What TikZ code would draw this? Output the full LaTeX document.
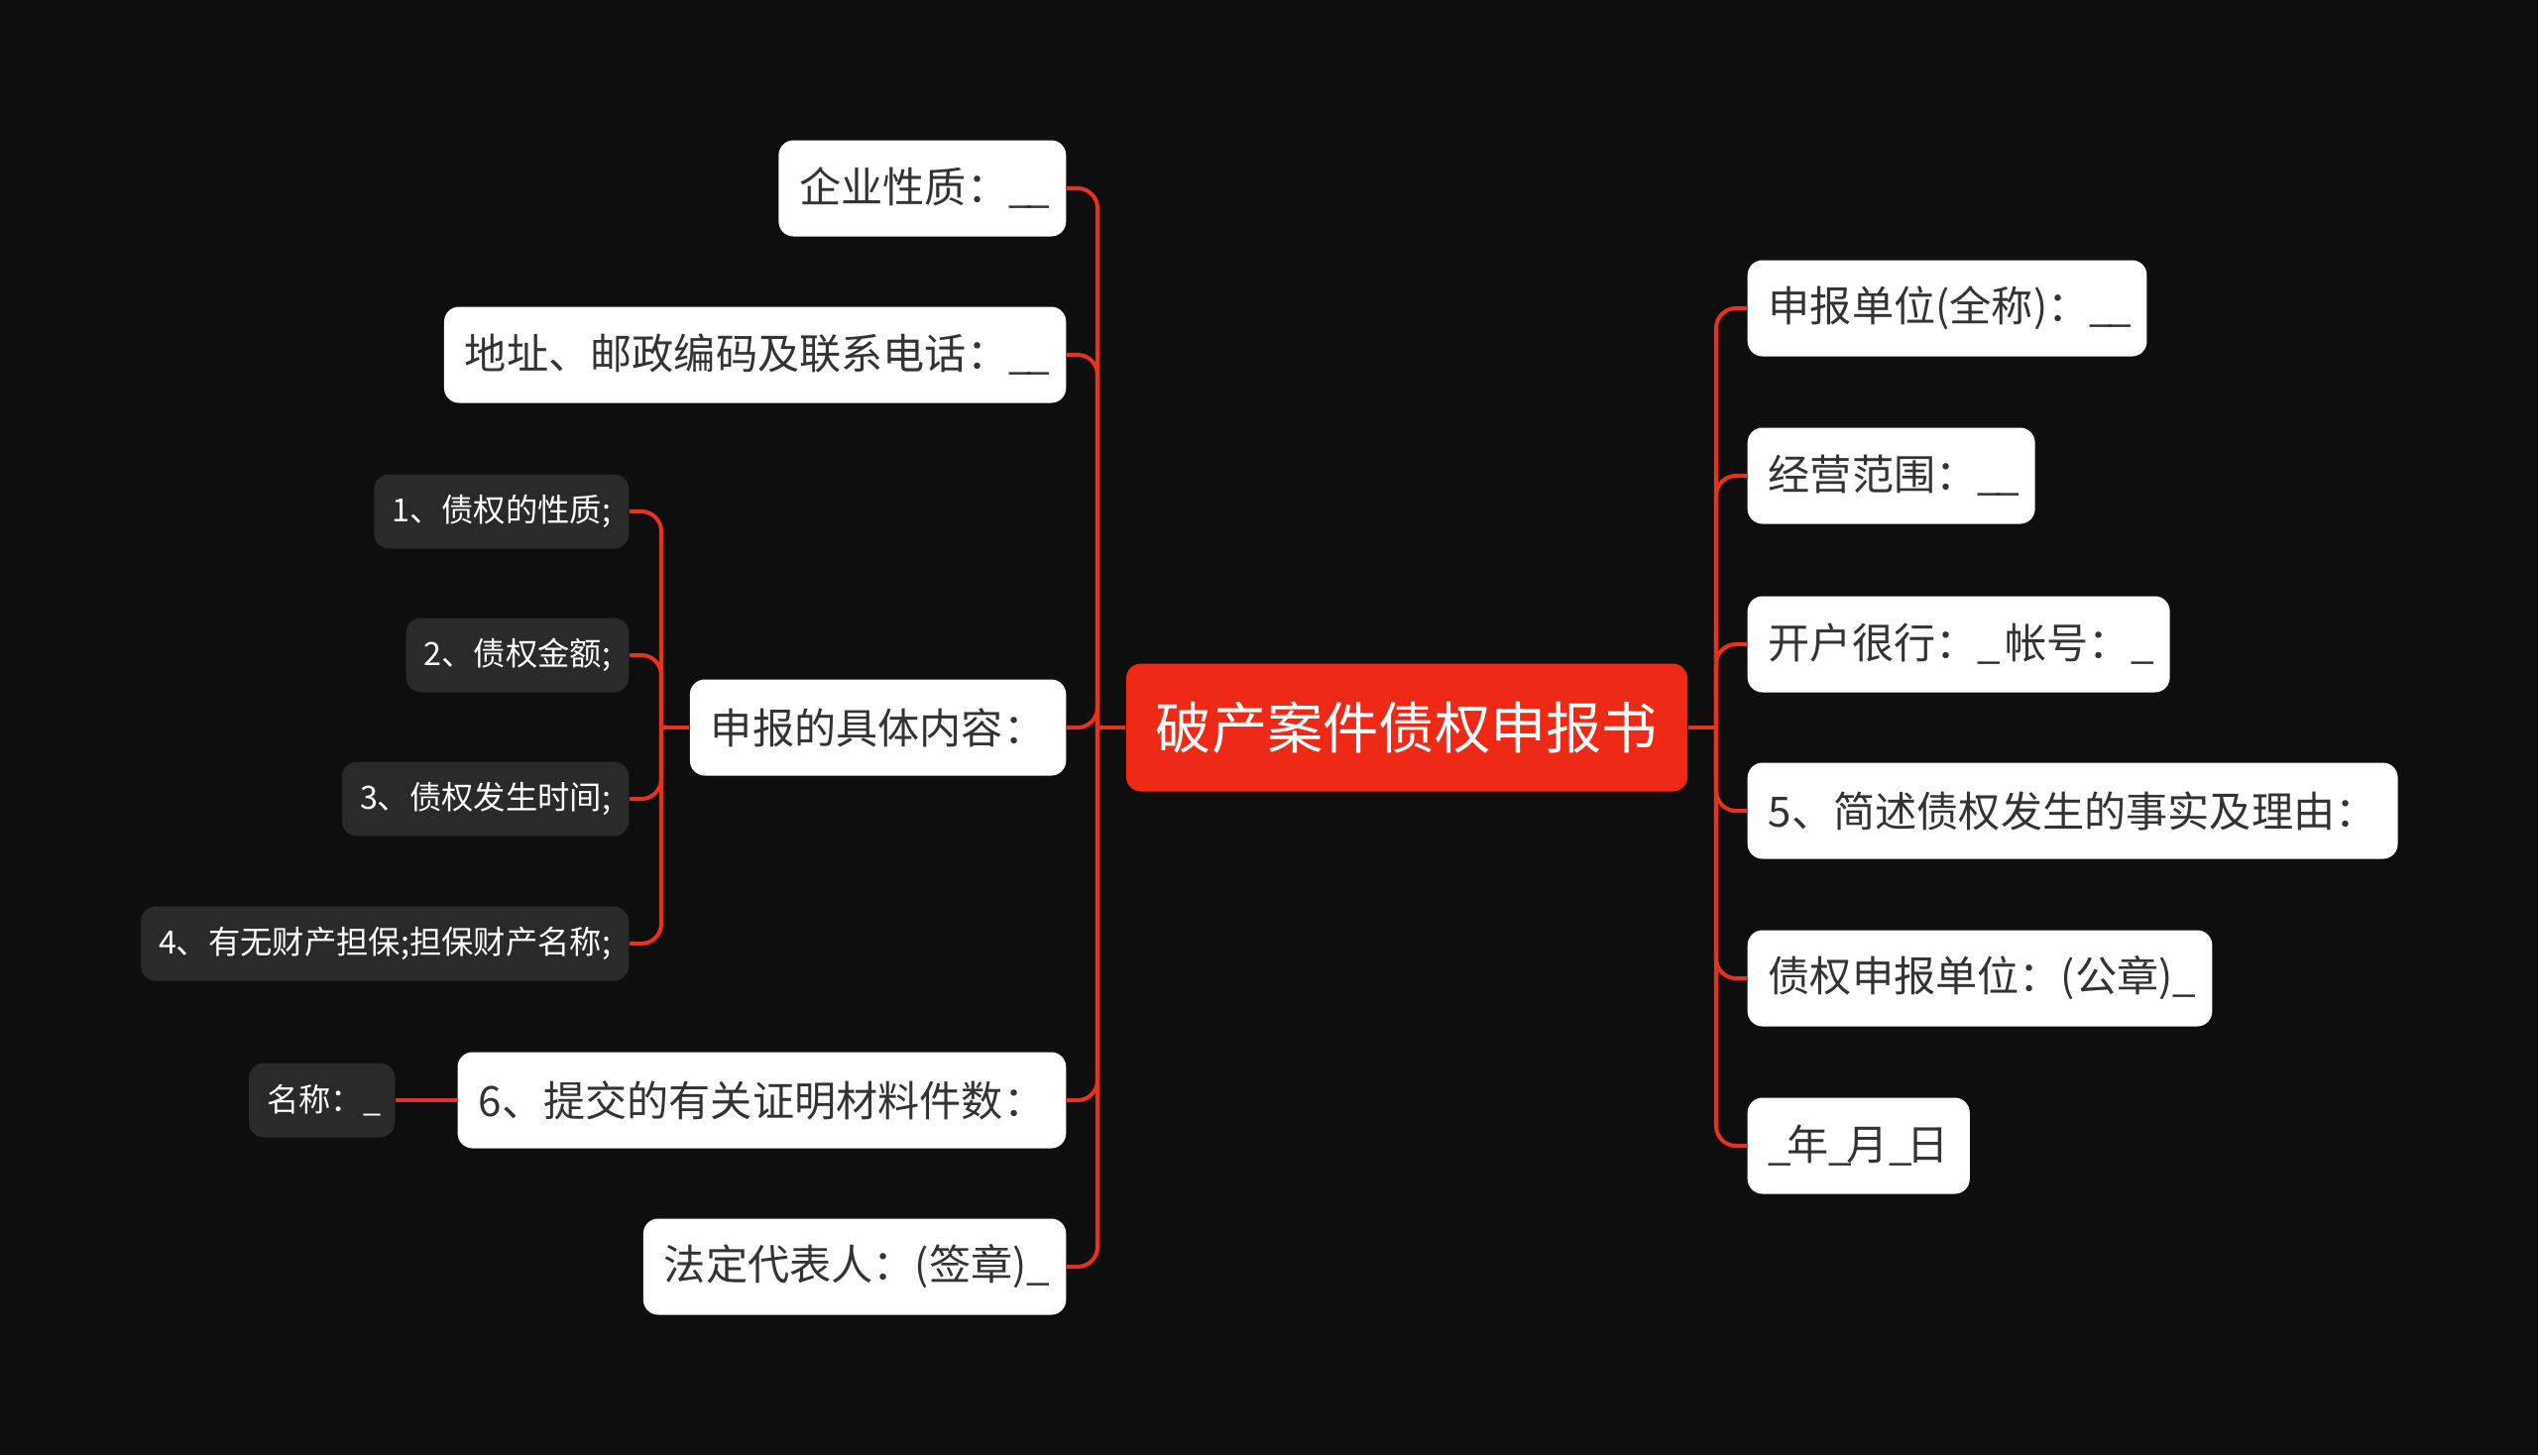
\documentclass[tikz,border=0pt]{standalone}
\usepackage{fontspec}
\setmainfont{Noto Sans CJK SC}
\usepackage{tikz}
\usepackage{xcolor}

\definecolor{bgdark}{HTML}{0E0E0E}
\definecolor{linered}{HTML}{E8321E}
\definecolor{rootred}{HTML}{EE2A17}
\definecolor{darkbox}{HTML}{2A2A2A}
\definecolor{ink}{HTML}{333333}

% a slightly narrower blank
\newcommand{\blank}{\_\kern-0.12em}

\begin{document}
\begin{tikzpicture}[
	root/.style={fill=rootred, text=white, rounded corners=0.15cm, minimum height=1.29cm, inner xsep=0.3cm, font=\fontsize{16pt}{18pt}\selectfont},
	leaf/.style={fill=white, text=ink, rounded corners=0.15cm, minimum height=0.97cm, inner xsep=0.21cm, font=\fontsize{12pt}{14pt}\selectfont},
	subleaf/.style={fill=darkbox, text=white, rounded corners=0.15cm, minimum height=0.75cm, inner xsep=0.18cm, font=\fontsize{9.2pt}{11pt}\selectfont},
	branch/.style={draw=linered, line width=1.15pt, rounded corners=0.2cm}
	]
	
	% Background
	\fill[bgdark] (0,0) rectangle (25.6,-14.68);
	\useasboundingbox (0,0) rectangle (25.6,-14.68);
	
	% Draw nodes
	\node[root] (sbs) at (14.19,-7.34) {破产案件债权申报书};
	
	\node[leaf,anchor=east] (qyxz) at (10.76,-1.90) {企业性质：\blank\blank};
	\node[leaf,anchor=east] (dz) at (10.76,-3.58) {地址、邮政编码及联系电话：\blank\blank};
	\node[leaf,anchor=east] (jtnr) at (10.76,-7.34) {申报的具体内容：};
	\node[leaf,anchor=east] (clzj) at (10.76,-11.10) {6、提交的有关证明材料件数：};
	\node[leaf,anchor=east] (fddb) at (10.76,-12.78) {法定代表人：(签章)\blank};
	
	\node[leaf,anchor=west] (sbdw) at (17.62,-3.11) {申报单位(全称)：\blank\blank};
	\node[leaf,anchor=west] (jyfw) at (17.62,-4.80) {经营范围：\blank\blank};
	\node[leaf,anchor=west] (khyh) at (17.62,-6.50) {开户很行：\blank{} 帐号：\blank};
	\node[leaf,anchor=west] (jsly) at (17.62,-8.18) {5、简述债权发生的事实及理由：};
	\node[leaf,anchor=west] (gz) at (17.62,-9.87) {债权申报单位：(公章)\blank};
	\node[leaf,anchor=west] (rq) at (17.62,-11.56) {\blank 年\blank 月\blank 日};
	
	\node[subleaf,anchor=east] (xz) at (6.35,-5.16) {1、债权的性质;};
	\node[subleaf,anchor=east] (je) at (6.35,-6.61) {2、债权金额;};
	\node[subleaf,anchor=east] (sj) at (6.35,-8.06) {3、债权发生时间;};
	\node[subleaf,anchor=east] (db) at (6.35,-9.52) {4、有无财产担保;担保财产名称;};
	\node[subleaf,anchor=east] (mc) at (3.99,-11.10) {名称：\blank};
	
	% Spine points
	\coordinate (lspine) at (11.07,-7.34);
	\coordinate (rspine) at (17.31,-7.34);
	\coordinate (sspine) at (6.67,-7.34);
	
	% Draw arcs, left side
	\draw[branch] (sbs.west) -- (lspine);
	\foreach \n in {qyxz,dz,jtnr,clzj,fddb}
		\draw[branch] (lspine) |- (\n.east);
	
	% Draw arcs, right side
	\draw[branch] (sbs.east) -- (rspine);
	\foreach \n in {sbdw,jyfw,khyh,jsly,gz,rq}
		\draw[branch] (rspine) |- (\n.west);
	
	% Draw arcs, contents
	\draw[branch] (jtnr.west) -- (sspine);
	\foreach \n in {xz,je,sj,db}
		\draw[branch] (sspine) |- (\n.east);
	\draw[branch] (clzj.west) -- (mc.east);
	
\end{tikzpicture}
\end{document}
